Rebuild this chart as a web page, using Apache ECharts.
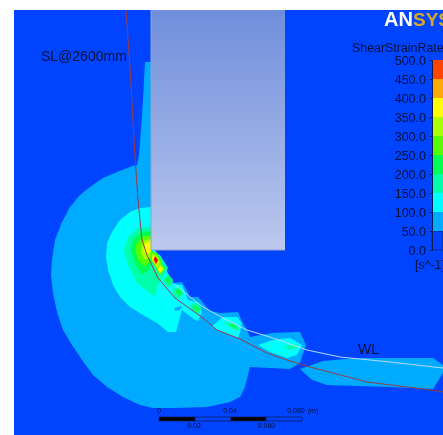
<!DOCTYPE html>
<html><head><meta charset="utf-8">
<style>html,body{margin:0;padding:0;background:#fff}#c{width:443px;height:435px}</style>
<script src="https://cdn.jsdelivr.net/npm/echarts@6/dist/echarts.min.js"></script>
</head><body><div id="c"></div>
<script>
// Contour legend
const bandLow  = [0,50,100,150,200,250,300,350,400,450];
const bandStep = 50;
const bandColors = ['#0044ff','#00aaff','#00ffff','#00ffaa','#00ff55','#55ff00','#aaff00','#ffff00','#ffaa00','#ff4400','#e60000'];
const legendUnit = '[s^-1]', legendTitle = 'ShearStrainRate';

// Contour regions, as [x, y] in picture units: outer band first
const domain = [[14,10],[443,10],[443,435],[14,435]];
const band50Main = [[145,62],[151,62],[151,250],[155,250],[165,267],[173,283],[182,282],[190,297],[198,297],[210,311],[220,313],[238,312],[242,322],[247,330],[250,337],[272,333],[297,332],[300,332],[306,345],[300,363],[290,369],[250,367],[248,375],[245,387],[240,397],[230,402],[207,407],[173,408],[153,408],[140,405],[123,397],[107,387],[93,375],[82,360],[72,345],[63,330],[57,312],[53,293],[51,275],[52,260],[55,240],[62,222],[70,207],[80,195],[90,187],[103,178],[117,172],[130,167],[137,165],[139,155],[141,130],[143,100]];
const band50Tail = [[300,369],[323,361],[357,358],[433,358],[443,365],[443,373],[433,389],[390,387],[327,385],[312,380]];
const band100Main = [[151,207],[140,208],[130,212],[120,220],[112,232],[107,243],[106,257],[108,270],[113,285],[120,297],[130,307],[143,315],[157,323],[168,332],[176,332],[180,317],[182,310],[195,320],[198,321],[202,312],[197,302],[188,300],[182,285],[172,284],[165,267],[155,250],[151,250]];
const band50Notch = [[174,308],[182,306],[180,310],[175,311]];
const band100Lens1 = [[212,326],[223,317],[237,317],[242,323],[240,332],[238,338],[217,330]];
const band100Lens2 = [[258,345],[273,340],[290,338],[302,345],[297,355],[287,358],[270,352]];
const band150Core = [[151,227],[138,228],[128,237],[124,250],[128,265],[137,283],[155,297],[158,285],[162,279],[168,268],[160,255],[151,250]];
const band150Spot3 = [[163,280],[168,274],[173,280],[172,285],[167,288]];
const band150Spot4 = [[172,290],[179,286],[184,293],[179,299],[174,296]];
const band150Spot5 = [[190,305],[198,302],[202,310],[198,314],[192,311]];
const band150Lens1 = [[223,323],[232,322],[238,327],[240,332],[232,328]];
const band150Lens2 = [[283,346],[298,344],[298,348],[288,350]];
const band200Core = [[151,231],[141,232],[133,240],[131,250],[134,262],[141,274],[147,272],[152,263],[157,268],[163,268],[158,255],[151,250]];
const band200Spot3 = [[165,280],[168,276],[171,280],[169,285]];
const band200Spot4 = [[175,291],[179,288],[182,293],[179,296]];
const band200Spot5 = [[193,307],[197,305],[200,310],[197,312]];
const band200Lens1 = [[228,325],[233,324],[237,328],[237,330],[232,327]];
const band250Core = [[151,236],[143,236],[137,243],[135,250],[138,259],[144,267],[149,262],[151,258]];
const band250Spot1 = [[151,252],[156,252],[162,262],[158,268],[152,262]];
const band250Spot2 = [[156,268],[160,262],[165,269],[160,275]];
const band300Core = [[151,239],[145,240],[141,246],[141,253],[145,260],[150,257]];
const band300Spot1 = [[152,254],[157,256],[160,262],[157,268],[152,260]];
const band300Spot2 = [[157,269],[160,264],[164,269],[160,274]];
const band350Core = [[151,241],[146,243],[143,248],[146,254],[151,252]];
const band350Spot1 = [[153,255],[158,260],[156,267],[152,259]];
const band350Spot2 = [[158,269],[160,266],[163,269],[160,272]];
const band400Spot1 = [[154,257],[158,260],[156,265],[153,260]];
const band500Spot1 = [[155,256],[158,260],[156,264],[154,260]];

const regions = [
  [domain,0],[band50Main,1],[band50Tail,1],[band100Main,2],[band50Notch,1],[band100Lens1,2],[band100Lens2,2],
  [band150Core,3],[band150Spot3,3],[band150Spot4,3],[band150Spot5,3],[band150Lens1,3],[band150Lens2,3],
  [band200Core,4],[band200Spot3,4],[band200Spot4,4],[band200Spot5,4],[band200Lens1,4],
  [band250Core,5],[band250Spot1,5],[band250Spot2,5],[band300Core,6],[band300Spot1,6],[band300Spot2,6],
  [band350Core,7],[band350Spot1,7],[band350Spot2,7],[band400Spot1,8],[band500Spot1,10]
];

// Blade body and curves
const blade = [[151,10],[285,10],[285,250],[151,250]];
const bladeEdge = [[151,10],[151,250],[285,250]];
const slCurve = [[126,10],[130,67],[135,157],[138,200],[140,220],[142,240],[147,255],[158,278],[175,298],[177,300],[203,318],[217,330],[240,339],[267,353],[290,361],[310,367],[367,382],[423,389],[443,392]];
const wlCurve = [[173,283],[190,297],[203,307],[223,318],[247,330],[270,337],[307,350],[340,357],[390,362],[443,368]];

// Scale bar
const barSegments = [[159,195,1],[195,231,0],[231,266,1],[266,302,0]];
const barTop = 417, barBottom = 421;

const chart = echarts.init(document.getElementById('c'), null, {renderer:'canvas'});
const inkColor = '#061038';
const txt = (text,x,y,size,align,fill,weight) => ({type:'text',x,y,silent:true,z:50,style:{
  text,fill:fill||inkColor,textAlign:align||'left',textVerticalAlign:'middle',
  font:`${weight||'normal'} ${size}px "Liberation Sans"`}});

chart.setOption({
  animation:false,
  backgroundColor:'#ffffff',
  grid:[
    {left:0,right:0,top:0,bottom:0,containLabel:false},
    {left:432,right:0,top:60,bottom:185,containLabel:false}
  ],
  xAxis:[
    {type:'value',gridIndex:0,min:0,max:443,show:false},
    {type:'value',gridIndex:1,min:0,max:1,show:false}
  ],
  yAxis:[
    {type:'value',gridIndex:0,min:0,max:435,inverse:true,show:false},
    {type:'value',gridIndex:1,min:0,max:500,interval:50,position:'left',z:20,
     axisLine:{show:true,lineStyle:{color:'#0a1a50',width:1}},
     axisTick:{show:true,length:2,lineStyle:{color:'#0a1a50'}},
     splitLine:{show:false},
     axisLabel:{show:true,margin:6,formatter:v=>`{t|${v.toFixed(1)}}`,
       rich:{t:{color:inkColor,fontSize:12.5,fontFamily:'Liberation Sans',padding:[4,0,0,0]}}}}
  ],
  series:[
    {type:'custom',xAxisIndex:0,yAxisIndex:0,silent:true,z:1,clip:true,
     data:regions.map((r,i)=>[i]),encode:{x:0,y:0},
     renderItem:(p,api)=>({type:'polygon',
       shape:{points:regions[p.dataIndex][0].map(q=>api.coord(q))},
       style:{fill:bandColors[regions[p.dataIndex][1]]}})},
    {type:'line',xAxisIndex:0,yAxisIndex:0,silent:true,z:3,data:wlCurve,showSymbol:false,
     lineStyle:{color:'#b4dcff',width:1}},
    {type:'line',xAxisIndex:0,yAxisIndex:0,silent:true,z:4,data:slCurve,showSymbol:false,
     lineStyle:{color:'#9a3b45',width:1}},
    {type:'custom',xAxisIndex:0,yAxisIndex:0,silent:true,z:5,data:[[0]],encode:{x:0,y:0},
     renderItem:(p,api)=>({type:'polygon',shape:{points:blade.map(q=>api.coord(q))},
       style:{fill:{type:'linear',x:0,y:0,x2:0,y2:1,
         colorStops:[{offset:0,color:'#6f8edb'},{offset:1,color:'#bcc8ee'}]}}})},
    {type:'line',xAxisIndex:0,yAxisIndex:0,silent:true,z:6,data:bladeEdge,showSymbol:false,
     lineStyle:{color:'#8fa3c8',width:1}},
    {type:'custom',xAxisIndex:0,yAxisIndex:0,silent:true,z:6,data:barSegments.map((s,i)=>[i]),encode:{x:0,y:0},
     renderItem:(p,api)=>{const s=barSegments[p.dataIndex];
       const a=api.coord([s[0],barTop]),b=api.coord([s[1],barBottom]);
       return {type:'rect',shape:{x:a[0],y:a[1],width:b[0]-a[0],height:b[1]-a[1]},
         style:{fill:s[2]?'#000000':'#0044ff',stroke:'#0a1a50',lineWidth:0.7}};}},
    {type:'custom',xAxisIndex:1,yAxisIndex:1,silent:true,z:10,
     data:bandLow.map(v=>[0,v]),encode:{x:0,y:1},
     renderItem:(p,api)=>{const lo=bandLow[p.dataIndex];
       const a=api.coord([0,lo+bandStep]),b=api.coord([1,lo]);
       return {type:'rect',shape:{x:a[0],y:a[1],width:b[0]-a[0],height:b[1]-a[1]},
         style:{fill:bandColors[p.dataIndex],stroke:lo===0?'#0a1a50':null,lineWidth:lo===0?0.6:0}};}}
  ],
  graphic:[
    txt('AN',384,20.5,20,'left','#ffffff','bold'),
    txt('SYS',413,20.5,19,'left','#d6a825','bold'),
    txt(legendTitle,352,49,12.4),
    txt(legendUnit,415,266,12.4),
    txt('SL@2600mm',41,57,14),
    txt('WL',358,350,14),
    txt('0',159,411,7,'center'),
    txt('0.04',230,411,7,'center'),
    txt('0.080',296,411,7,'center'),
    txt('(m)',313,411,7,'center'),
    txt('0.02',194,426,7,'center'),
    txt('0.060',266.5,426,7,'center')
  ]
});
</script></body></html>
